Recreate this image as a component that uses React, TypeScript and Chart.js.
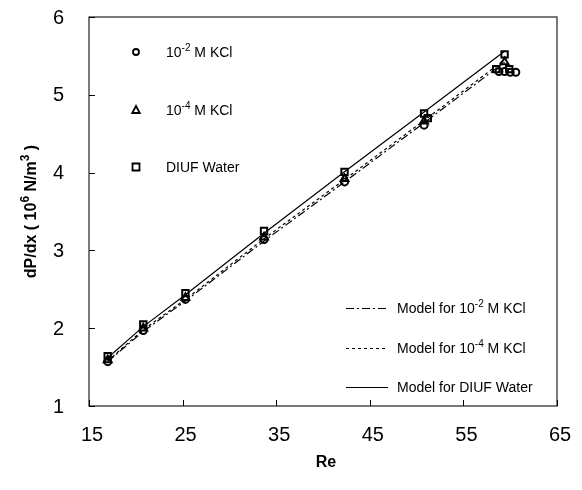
import React, { useEffect, useRef } from 'react';
import { Chart, registerables } from 'chart.js';
Chart.register(...registerables);

// ---- data ----
const reynolds = [17, 20.8, 25.3, 33.7, 42.3, 50.8, 59.4];
const kcl2Re = [17, 20.8, 25.3, 33.7, 42.3, 50.8, 59.4, 58.8, 60.0, 60.6];
const kcl2Values = [1.57, 1.97, 2.37, 3.14, 3.88, 4.61, 5.30, 5.30, 5.29, 5.29];
const kcl4Re = [17, 20.8, 25.3, 33.7, 42.3, 50.8, 59.4];
const kcl4Values = [1.59, 2.0, 2.39, 3.17, 3.92, 4.66, 5.42];
const waterRe = [17, 20.8, 25.3, 33.7, 42.3, 50.8, 51.2, 59.4, 58.5, 59.9];
const waterValues = [1.64, 2.05, 2.45, 3.25, 4.01, 4.76, 4.70, 5.52, 5.33, 5.33];
const modelKcl2 = [1.57, 1.96, 2.35, 3.12, 3.88, 4.64, 5.42];
const modelKcl4 = [1.58, 1.98, 2.37, 3.15, 3.91, 4.67, 5.45];
const modelWater = [1.62, 2.02, 2.43, 3.22, 4.01, 4.78, 5.56];
const xTicks = [15, 25, 35, 45, 55, 65];
const yTicks = [1, 2, 3, 4, 5, 6];

const FONT = '"Liberation Sans", Arial, Helvetica, sans-serif';

type Part = { t: string; sup?: boolean };

function drawRich(ctx: CanvasRenderingContext2D, parts: Part[], x: number, y: number, size: number, bold: boolean, align: 'left' | 'center') {
  const w = bold ? 'bold ' : '';
  const supSize = Math.round(size * 0.72);
  let total = 0;
  for (const p of parts) {
    ctx.font = `${w}${p.sup ? supSize : size}px ${FONT}`;
    total += ctx.measureText(p.t).width;
  }
  let cx = align === 'center' ? x - total / 2 : x;
  ctx.textBaseline = 'alphabetic';
  ctx.textAlign = 'left';
  for (const p of parts) {
    ctx.font = `${w}${p.sup ? supSize : size}px ${FONT}`;
    ctx.fillText(p.t, cx, p.sup ? y - size * 0.42 : y);
    cx += ctx.measureText(p.t).width;
  }
}

function marker(ctx: CanvasRenderingContext2D, kind: string, x: number, y: number) {
  ctx.save();
  ctx.strokeStyle = '#000';
  ctx.lineWidth = 1.8;
  ctx.beginPath();
  if (kind === 'circle') ctx.arc(x, y, 3, 0, Math.PI * 2);
  else if (kind === 'triangle') {
    ctx.moveTo(x, y - 4);
    ctx.lineTo(x + 3.8, y + 3);
    ctx.lineTo(x - 3.8, y + 3);
    ctx.closePath();
  } else ctx.rect(x - 3.5, y - 3.5, 7, 7);
  ctx.stroke();
  ctx.restore();
}

const overlay = {
  id: 'overlay',
  afterDraw(chart: any) {
    const ctx: CanvasRenderingContext2D = chart.ctx;
    const a = chart.chartArea;
    const xs = chart.scales.x;
    const ys = chart.scales.y;
    ctx.save();
    // frame
    ctx.strokeStyle = '#222';
    ctx.lineWidth = 1.2;
    ctx.strokeRect(a.left, a.top, a.right - a.left, a.bottom - a.top);
    // inward ticks
    ctx.strokeStyle = '#000';
    ctx.lineWidth = 1;
    ctx.beginPath();
    for (const v of yTicks) {
      const py = Math.round(ys.getPixelForValue(v)) + 0.5;
      ctx.moveTo(a.left, py);
      ctx.lineTo(a.left + 6, py);
    }
    for (const v of xTicks) {
      const px = Math.round(xs.getPixelForValue(v)) + 0.5;
      ctx.moveTo(px, a.bottom);
      ctx.lineTo(px, a.bottom - 6);
    }
    ctx.stroke();

    ctx.fillStyle = '#000';
    // tick labels
    ctx.font = `20px ${FONT}`;
    ctx.textBaseline = 'middle';
    ctx.textAlign = 'right';
    for (const v of yTicks) ctx.fillText(String(v), 64, ys.getPixelForValue(v) + 1);
    ctx.textAlign = 'center';
    for (const v of xTicks) ctx.fillText(String(v), xs.getPixelForValue(v) + 3, 435);

    // axis titles
    drawRich(ctx, [{ t: 'Re' }], (a.left + a.right) / 2 + 3, 467, 16, true, 'center');
    ctx.save();
    ctx.translate(36, (a.top + a.bottom) / 2);
    ctx.rotate(-Math.PI / 2);
    drawRich(ctx, [{ t: 'dP/dx ( 10' }, { t: '6', sup: true }, { t: ' N/m' }, { t: '3', sup: true }, { t: ' )' }], 0, 0, 16, true, 'center');
    ctx.restore();

    // top-left legend
    const rows: [string, Part[], number][] = [
      ['circle', [{ t: '10' }, { t: '-2', sup: true }, { t: ' M KCl' }], 52],
      ['triangle', [{ t: '10' }, { t: '-4', sup: true }, { t: ' M KCl' }], 110],
      ['square', [{ t: 'DIUF Water' }], 167],
    ];
    for (const [k, parts, y] of rows) {
      marker(ctx, k, 136, y);
      drawRich(ctx, parts, 166, y + 5, 14, false, 'left');
    }

    // bottom-right legend
    const lrows: [number[], Part[], number][] = [
      [[8, 3, 2, 3], [{ t: 'Model for 10' }, { t: '-2', sup: true }, { t: ' M KCl' }], 308],
      [[3, 3], [{ t: 'Model for 10' }, { t: '-4', sup: true }, { t: ' M KCl' }], 348],
      [[], [{ t: 'Model for DIUF Water' }], 387],
    ];
    for (const [dash, parts, y] of lrows) {
      ctx.save();
      ctx.setLineDash(dash);
      ctx.lineWidth = 1.2;
      ctx.beginPath();
      ctx.moveTo(346, y + 0.5);
      ctx.lineTo(388, y + 0.5);
      ctx.stroke();
      ctx.restore();
      drawRich(ctx, parts, 397, y + 5, 14, false, 'left');
    }
    ctx.restore();
  },
};

function pts(xsArr: number[], ysArr: number[]) {
  return xsArr.map((x, i) => ({ x, y: ysArr[i] }));
}

export default function App() {
  const ref = useRef<HTMLCanvasElement>(null);
  useEffect(() => {
    const scatterBase = {
      type: 'scatter' as const,
      showLine: false,
      borderColor: '#000',
      backgroundColor: 'rgba(0,0,0,0)',
      borderWidth: 2,
      pointRadius: 3.5,
    };
    const lineBase = {
      type: 'line' as const,
      borderColor: '#000',
      borderWidth: 1.2,
      pointRadius: 0,
      fill: false,
      tension: 0,
    };
    const chart = new Chart(ref.current!, {
      type: 'scatter',
      data: {
        datasets: [
          { ...lineBase, label: 'Model for 10-2 M KCl', data: pts(reynolds, modelKcl2), borderDash: [8, 3, 2, 3] },
          { ...lineBase, label: 'Model for 10-4 M KCl', data: pts(reynolds, modelKcl4), borderDash: [3, 3] },
          { ...lineBase, label: 'Model for DIUF Water', data: pts(reynolds, modelWater) },
          { ...scatterBase, label: '10-2 M KCl', data: pts(kcl2Re, kcl2Values), pointStyle: 'circle', pointRadius: 3.5 },
          { ...scatterBase, label: '10-4 M KCl', data: pts(kcl4Re, kcl4Values), pointStyle: 'triangle', pointRadius: 4.5 },
          { ...scatterBase, label: 'DIUF Water', data: pts(waterRe, waterValues), pointStyle: 'rect', pointRadius: 4.5 },
        ] as any,
      },
      options: {
        animation: false,
        responsive: false,
        devicePixelRatio: 1,
        layout: { padding: { top: 17, right: 25, left: 0, bottom: 0 } },
        plugins: { legend: { display: false }, tooltip: { enabled: false } },
        scales: {
          x: {
            type: 'linear',
            min: 15,
            max: 65,
            afterFit: (s: any) => { s.height = 84; },
            grid: { display: false, drawTicks: false },
            border: { display: false },
            ticks: { display: false },
          },
          y: {
            type: 'linear',
            min: 1,
            max: 6,
            afterFit: (s: any) => { s.width = 89; },
            grid: { display: false, drawTicks: false },
            border: { display: false },
            ticks: { display: false },
          },
        },
      } as any,
      plugins: [overlay],
    });
    return () => chart.destroy();
  }, []);
  return (
    <div style={{ position: 'fixed', left: 0, top: 0, width: 582, height: 490, background: '#fff' }}>
      <canvas ref={ref} width={582} height={490} style={{ width: 582, height: 490, display: 'block' }} />
    </div>
  );
}
